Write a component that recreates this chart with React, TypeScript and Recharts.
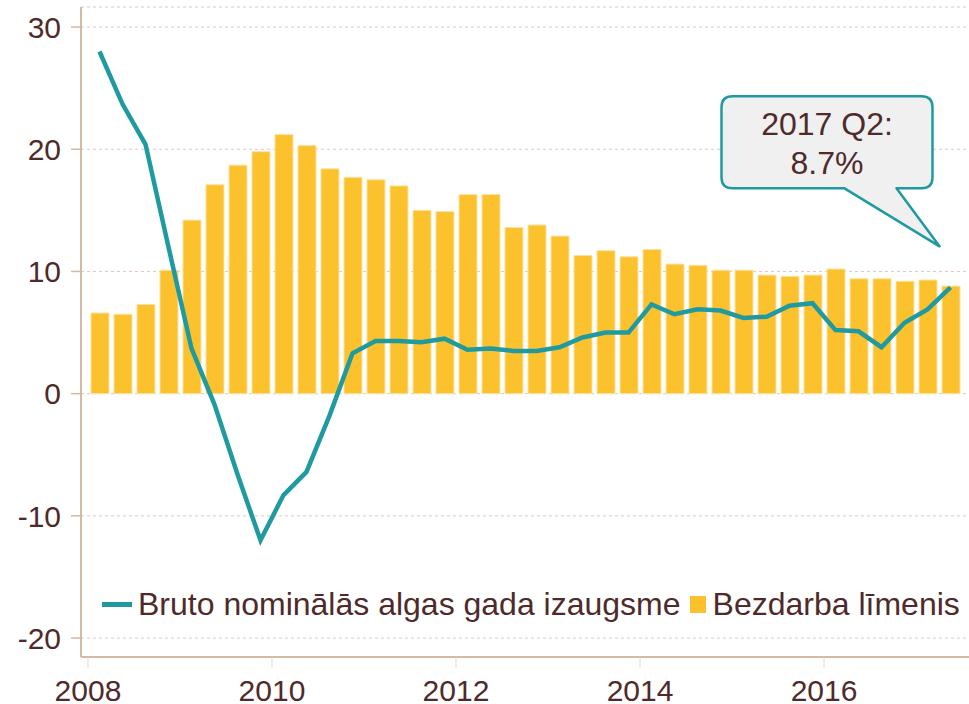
import React from 'react';
import {
  ComposedChart,
  Bar,
  Line,
  XAxis,
  YAxis,
  CartesianGrid,
  Legend,
  ReferenceDot,
} from 'recharts';

const QUARTERS = [
  '2008 Q1', '2008 Q2', '2008 Q3', '2008 Q4',
  '2009 Q1', '2009 Q2', '2009 Q3', '2009 Q4',
  '2010 Q1', '2010 Q2', '2010 Q3', '2010 Q4',
  '2011 Q1', '2011 Q2', '2011 Q3', '2011 Q4',
  '2012 Q1', '2012 Q2', '2012 Q3', '2012 Q4',
  '2013 Q1', '2013 Q2', '2013 Q3', '2013 Q4',
  '2014 Q1', '2014 Q2', '2014 Q3', '2014 Q4',
  '2015 Q1', '2015 Q2', '2015 Q3', '2015 Q4',
  '2016 Q1', '2016 Q2', '2016 Q3', '2016 Q4',
  '2017 Q1', '2017 Q2',
];

const UNEMPLOYMENT = [
  6.6, 6.5, 7.3, 10.1,
  14.2, 17.1, 18.7, 19.8,
  21.2, 20.3, 18.4, 17.7,
  17.5, 17.0, 15.0, 14.9,
  16.3, 16.3, 13.6, 13.8,
  12.9, 11.3, 11.7, 11.2,
  11.8, 10.6, 10.5, 10.1,
  10.1, 9.7, 9.6, 9.7,
  10.2, 9.4, 9.4, 9.2,
  9.3, 8.8,
];

const WAGE_GROWTH = [
  28.0, 23.7, 20.4, 12.0,
  3.7, -0.9, -6.6, -12.0,
  -8.3, -6.4, -1.8, 3.3,
  4.3, 4.3, 4.2, 4.5,
  3.6, 3.7, 3.5, 3.5,
  3.8, 4.6, 5.0, 5.0,
  7.3, 6.5, 6.9, 6.8,
  6.2, 6.3, 7.2, 7.4,
  5.2, 5.1, 3.8, 5.8,
  6.9, 8.7,
];

const X_TICKS = [2008, 2010, 2012, 2014, 2016];
const Y_TICKS = [-20, -10, 0, 10, 20, 30];

const LINE_NAME = 'Bruto nominālās algas gada izaugsme';
const BAR_NAME = 'Bezdarba līmenis';
const CALLOUT_LINES = ['2017 Q2:', '8.7%'];

const FONT = '"Liberation Sans", Arial, Helvetica, sans-serif';
const TEXT = '#4f2a2a';
const TEAL = '#1f9aa0';
const YELLOW = '#fcc22e';
const AXIS = '#d4b9a4';
const GRID = '#dcc9bb';

const quarterToNum = (q: string) => {
  const [y, qq] = q.split(' Q');
  return Number(y) + (Number(qq) - 0.5) / 4;
};

const data = QUARTERS.map((q, i) => ({
  q,
  t: quarterToNum(q),
  unemp: UNEMPLOYMENT[i],
  wage: WAGE_GROWTH[i],
}));

const last = data[data.length - 1];

const Callout = (props: any) => {
  const { cx, cy } = props;
  if (cx == null || cy == null) return null;
  const L = cx - 229;
  const R = cx - 18;
  const T = cy - 191;
  const B = cy - 99;
  const r = 11;
  const x1 = cx - 106;
  const x2 = cx - 54;
  const tx = cx - 11;
  const ty = cy - 41;
  const d = `M${L + r},${T} H${R - r} Q${R},${T} ${R},${T + r} V${B - r} Q${R},${B} ${R - r},${B} H${x2} L${tx},${ty} L${x1},${B} H${L + r} Q${L},${B} ${L},${B - r} V${T + r} Q${L},${T} ${L + r},${T} Z`;
  const mid = (L + R) / 2;
  return (
    <g>
      <path d={d} fill="#f0f0f0" stroke={TEAL} strokeWidth={2.5} strokeLinejoin="round" />
      <text x={mid} y={cy - 152} textAnchor="middle" fontSize={32} fontFamily={FONT} fill={TEXT}>
        {CALLOUT_LINES[0]}
      </text>
      <text x={mid} y={cy - 113} textAnchor="middle" fontSize={32} fontFamily={FONT} fill={TEXT}>
        {CALLOUT_LINES[1]}
      </text>
    </g>
  );
};

const LegendContent = () => (
  <div
    style={{
      display: 'flex',
      alignItems: 'center',
      fontFamily: FONT,
      fontSize: 32,
      lineHeight: '32px',
      color: TEXT,
      whiteSpace: 'nowrap',
    }}
  >
    <span style={{ display: 'inline-block', width: 30, height: 5, background: TEAL, marginRight: 6 }} />
    <span>{LINE_NAME}</span>
    <span style={{ display: 'inline-block', width: 16, height: 17, background: YELLOW, marginLeft: 9, marginRight: 7 }} />
    <span>{BAR_NAME}</span>
  </div>
);

export default function App() {
  return (
    <div style={{ position: 'absolute', left: 0, top: 0, width: 969, height: 704, background: '#fff' }}>
      <ComposedChart
        width={969}
        height={704}
        data={data}
        margin={{ top: 7, right: 0, bottom: 0, left: 0 }}
        style={{ fontFamily: FONT }}
      >
        <CartesianGrid vertical={false} stroke={GRID} strokeDasharray="3 3" />
        <XAxis
          dataKey="t"
          type="number"
          domain={[2007.924, 2017.576]}
          ticks={X_TICKS}
          allowDataOverflow
          height={47}
          tickSize={11}
          tickMargin={12}
          axisLine={{ stroke: AXIS, strokeWidth: 2 }}
          tickLine={{ stroke: '#e6d6ca', strokeWidth: 1 }}
          tick={{ fill: TEXT, fontSize: 30, fontFamily: FONT }}
          interval={0}
        />
        <YAxis
          type="number"
          domain={[-21.55, 31.64]}
          ticks={Y_TICKS}
          allowDataOverflow
          width={81}
          tickSize={10}
          tickMargin={10}
          axisLine={{ stroke: AXIS, strokeWidth: 2 }}
          tickLine={{ stroke: AXIS, strokeWidth: 1.5 }}
          tick={{ fill: TEXT, fontSize: 30, fontFamily: FONT }}
          interval={0}
        />
        <Bar
          dataKey="unemp"
          name={BAR_NAME}
          fill={YELLOW}
          stroke="#fde2a0"
          strokeWidth={1}
          barSize={18}
          isAnimationActive={false}
        />
        <Line
          dataKey="wage"
          name={LINE_NAME}
          type="linear"
          stroke={TEAL}
          strokeWidth={4.5}
          dot={false}
          activeDot={false}
          isAnimationActive={false}
        />
        <ReferenceDot x={last.t} y={last.wage} r={0} shape={Callout} ifOverflow="visible" />
        <Legend
          layout="horizontal"
          verticalAlign="middle"
          align="center"
          content={LegendContent}
          wrapperStyle={{ position: 'absolute', left: 102, top: 588, width: 'auto', height: 'auto' }}
        />
      </ComposedChart>
    </div>
  );
}
